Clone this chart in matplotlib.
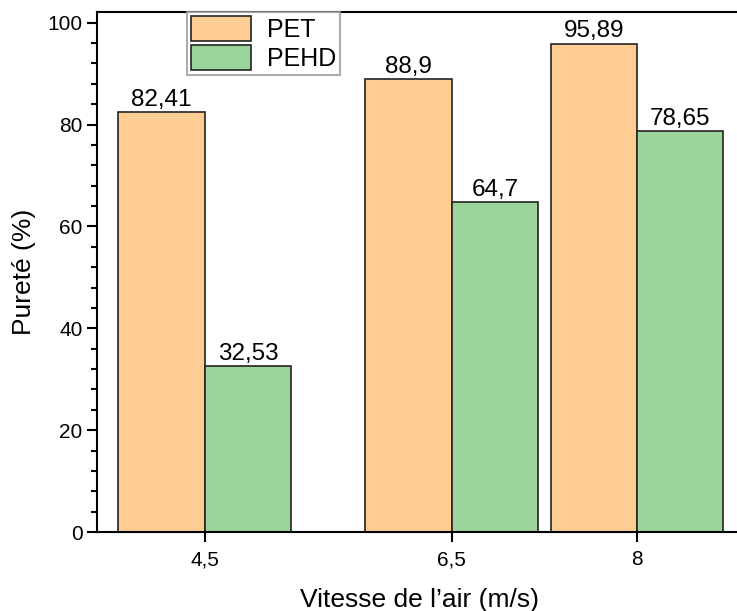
import numpy as np
import matplotlib
matplotlib.use("Agg")
import matplotlib.pyplot as plt
from matplotlib.ticker import MultipleLocator

plt.rcParams['font.family'] = ['Liberation Sans', 'DejaVu Sans']

# air speed (m/s) and purity (%) for each plastic
vitesse = [4.5, 6.5, 8]
vitesse_labels = ["4,5", "6,5", "8"]
pet = [82.41, 88.9, 95.89]
pehd = [32.53, 64.7, 78.65]

w = 0.7
c_pet = '#FFCC91'
c_pehd = '#9CD59A'

fig = plt.figure(figsize=(7.37, 6.11), dpi=100)
ax = fig.add_axes([97/737, 1-532/611, 645/737, 520/611])

x = np.array(vitesse)
b1 = ax.bar(x - w/2, pet, width=w, color=c_pet, edgecolor='#222222', linewidth=1.2, label='PET')
b2 = ax.bar(x + w/2, pehd, width=w, color=c_pehd, edgecolor='#222222', linewidth=1.2, label='PEHD')

fmt = lambda v: ("%g" % v).replace('.', ',')
ax.bar_label(b1, labels=[fmt(v) for v in pet], padding=1, fontsize=17.5)
ax.bar_label(b2, labels=[fmt(v) for v in pehd], padding=1, fontsize=17.5)

ax.set_xlim(3.627, 8.85)
ax.set_ylim(0, 102.1)
ax.set_xticks(vitesse)
ax.set_xticklabels(vitesse_labels)
ax.yaxis.set_major_locator(MultipleLocator(20))
ax.yaxis.set_minor_locator(MultipleLocator(4))

for s in ax.spines.values():
    s.set_linewidth(1.5)
ax.spines['right'].set_visible(False)

ax.tick_params(axis='both', which='major', direction='out', length=7, width=1.5, labelsize=15)
ax.tick_params(axis='x', which='major', pad=6)
ax.tick_params(axis='y', which='minor', direction='out', length=4, width=1.5)
ax.tick_params(axis='x', which='minor', length=0)

ax.set_xlabel("Vitesse de l\u2019air (m/s)", fontsize=19, labelpad=14)
ax.set_ylabel("Pureté (%)", fontsize=19, labelpad=8)

leg = ax.legend(loc='upper left', bbox_to_anchor=(187/737, 1-12/611),
                bbox_transform=fig.transFigure, fontsize=18, frameon=True,
                fancybox=False, borderaxespad=0, borderpad=0.15,
                handlelength=2.4, handleheight=1.15, labelspacing=0.15,
                handletextpad=0.65)
leg.get_frame().set_edgecolor('#999999')
leg.get_frame().set_linewidth(1.5)
leg.set_zorder(5)

fig.savefig("out.png", dpi=100)
